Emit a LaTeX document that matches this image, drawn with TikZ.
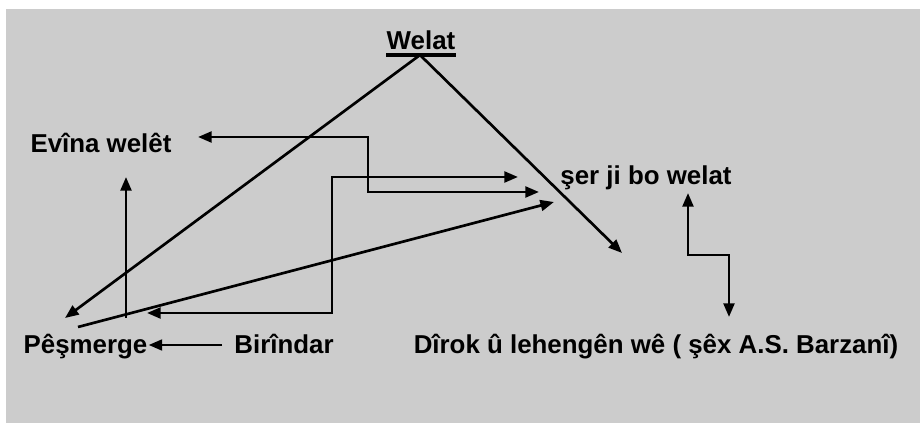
\documentclass[tikz,border=0pt]{standalone}
\usepackage{fontspec}
\setmainfont{Liberation Sans}
\usetikzlibrary{arrows.meta}
\definecolor{panelgray}{RGB}{204,204,204}
\tikzset{
  word/.style={font=\fontsize{18.4}{22}\selectfont\bfseries,inner sep=0pt,anchor=base},
  link/.style={line width=1.9pt,-{Triangle[length=3.4mm,width=2.7mm]}},
  twolink/.style={line width=1.9pt,{Triangle[length=3.4mm,width=2.7mm]}-{Triangle[length=3.4mm,width=2.7mm]}}
}
\begin{document}
\begin{tikzpicture}
\useasboundingbox (0.000,0.000) rectangle (23.000,-10.575);
\fill[panelgray] (0.150,-0.225) rectangle (23.000,-10.575);
% words
\node[word] (welat) at (10.525,-1.250) {Welat};
\node[word] (evina) at (2.525,-3.825) {Evîna welêt};
\node[word] (ser) at (16.150,-4.625) {şer ji bo welat};
\node[word] (pesmerge) at (2.138,-8.850) {Pêşmerge};
\node[word] (birindar) at (7.100,-8.850) {Birîndar};
\node[word] (dirok) at (16.400,-8.850) {Dîrok û lehengên wê ( şêx A.S. Barzanî)};
\draw[line width=2.2pt] ([yshift=-0.125cm]welat.base west) -- ([yshift=-0.125cm]welat.base east);
% free ends
\coordinate (apex) at ([yshift=-0.125cm,xshift=-0.025cm]welat.base);
\coordinate (pes tip) at (1.625,-7.950);
\coordinate (ser low) at (15.550,-6.325);
\coordinate (ev tip) at (4.950,-3.425);
\coordinate (ev in) at (13.475,-4.800);
\coordinate (br tip) at (3.675,-7.825);
\coordinate (br in) at (12.950,-4.425);
\coordinate (pes out) at (1.950,-8.175);
\coordinate (pes in) at (13.850,-5.050);
\coordinate (up low) at (3.150,-7.950);
\coordinate (up tip) at (3.150,-4.425);
\coordinate (dk up) at (17.200,-4.825);
\coordinate (dk down) at (18.225,-7.925);
% links
\draw[link] (apex) -- (pes tip);
\draw[link] (apex) -- (ser low);
\draw[twolink] (ev tip) -- (9.200,-3.425) -- (9.200,-4.800) -- (ev in);
\draw[twolink] (br tip) -- (8.300,-7.825) -- (8.300,-4.425) -- (br in);
\draw[link] (pes out) -- (pes in);
\draw[link] (up low) -- (up tip);
\draw[link] ([xshift=-0.300cm,yshift=0.225cm]birindar.base west) -- ([xshift=0.025cm,yshift=0.225cm]pesmerge.base east);
\draw[twolink] (dk up) -- (17.200,-6.375) -- (18.225,-6.375) -- (dk down);
\end{tikzpicture}
\end{document}
